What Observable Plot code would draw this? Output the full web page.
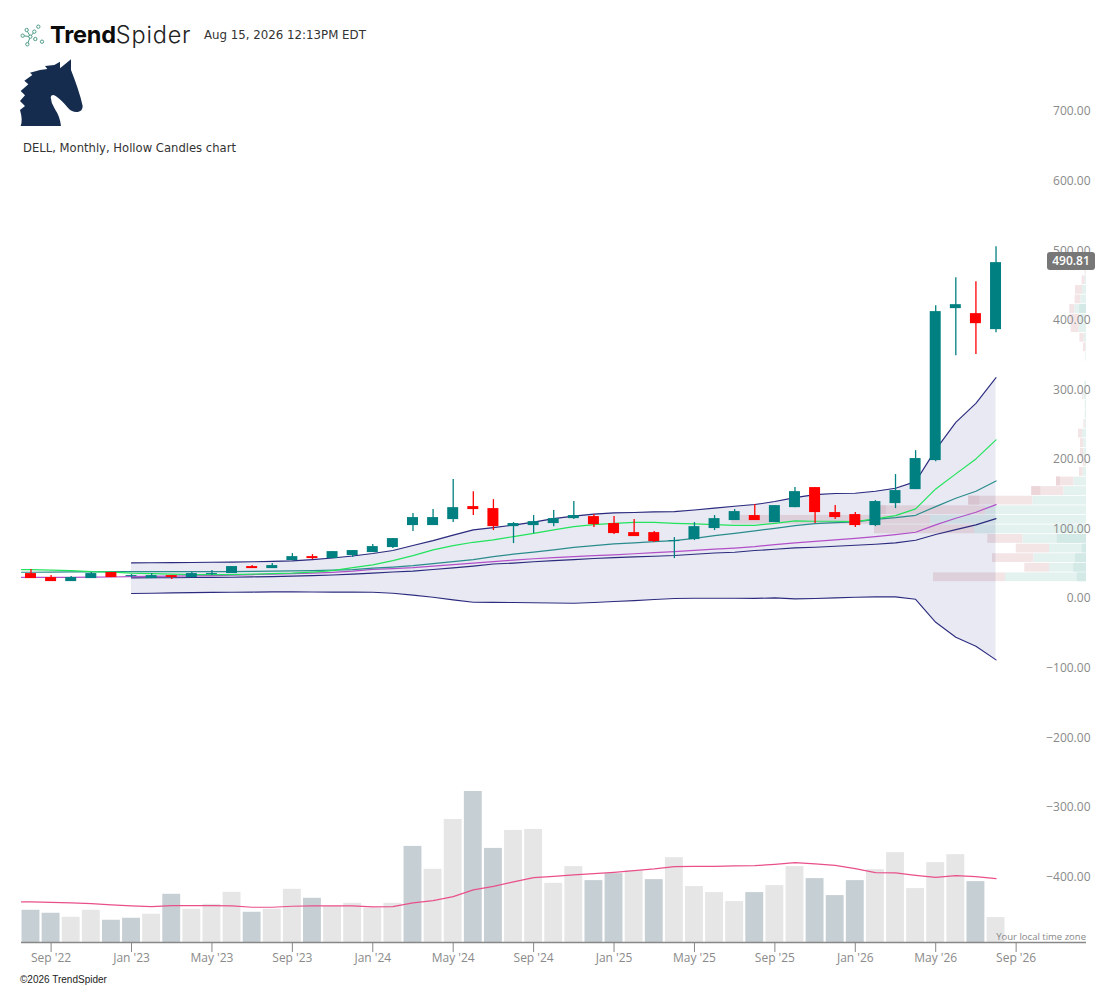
<!DOCTYPE html>
<html><head><meta charset="utf-8">
<script src="https://cdn.jsdelivr.net/npm/d3@7"></script>
<script src="https://cdn.jsdelivr.net/npm/@observablehq/plot@0.6"></script>
<style>
html,body{margin:0;padding:0;background:#fff;}
#page{position:relative;width:1116px;height:989px;overflow:hidden;font-family:"DejaVu Sans",sans-serif;}
#page>div.layer{position:absolute;left:0;top:0;}
.abs{position:absolute;white-space:nowrap;}
</style></head><body>
<div id="page">
<div class="layer" id="vol"></div>
<div class="layer" id="prof"></div>
<div class="layer" id="main"></div>
<svg class="abs" style="left:15px;top:20px" width="75" height="110" viewBox="0 0 225 330">
<g fill="#fff" stroke="#4d9c86" stroke-width="3"><path fill="none" d="M35 30L46 50L37 73M23 47L46 50M46 50L58 35"/><circle cx="23" cy="47" r="5"/><circle cx="35" cy="30" r="5"/><circle cx="37" cy="73" r="5"/><circle cx="46" cy="50" r="5"/><circle cx="58" cy="35" r="5"/><circle cx="70" cy="20" r="5"/><circle cx="61" cy="57" r="5"/><circle cx="81" cy="65" r="5"/></g>
<path fill="#152c4f" d="M168 118L168 150Q178 175 188 205Q198 235 203 258Q203 274 188 276Q172 278 160 265Q140 240 122 228Q110 220 107 232Q108 250 120 268Q135 290 138 318L17 318Q24 300 15 270L30 258L15 243L30 226L17 213L40 193L28 182L52 165L45 158L75 150L97 147L90 138L118 135L135 125L135 145Z"/>
</svg>
<div class="abs" style="left:50px;top:20px;font:700 23.5px/30px Inter,sans-serif;color:#0b0b0b;letter-spacing:-.2px">Trend<span style="font-weight:300;color:#222;letter-spacing:.8px">Spider</span></div>
<div class="abs" style="left:204px;top:28px;font-size:11.8px;line-height:15px;color:#333">Aug 15, 2026 12:13PM EDT</div>
<div class="abs" style="left:23px;top:141px;font-size:11.6px;line-height:15px;color:#333">DELL, Monthly, Hollow Candles chart</div>
<div class="abs" style="left:1047px;top:252px;width:48px;height:18px;border-radius:3px;background:#777;color:#fff;text-align:center;font:600 12px/18px 'Open Sans',sans-serif">490.81</div>
<div class="abs" style="right:30px;top:930px;font:9.5px/13px 'Open Sans',sans-serif;color:#888">Your local time zone</div>
<div class="abs" style="left:20px;top:974px;font:10px/12px 'Liberation Sans',sans-serif;color:#222">©2026 TrendSpider</div>
</div>
<script>
const open = [35.9,30.2,24.4,28.7,37.4,31.6,28.7,33.0,30.2,34.5,35.9,46.0,43.1,54.6,60.3,57.5,61.8,66.1,73.3,104.9,104.9,113.5,132.2,129.3,103.4,104.9,107.8,114.9,117.8,107.8,94.8,94.8,81.9,84.8,100.6,112.1,119.3,109.2,130.7,159.5,123.6,120.7,104.9,136.5,156.6,198.3,416.7,409.5,386.5];
const high = [41.7,33.0,31.6,37.4,37.4,34.5,35.9,33.0,37.4,40.2,46.0,47.4,50.3,64.7,63.2,67.5,69.0,77.6,86.2,122.1,127.9,171.0,153.7,142.2,109.2,119.3,126.4,139.4,120.7,117.8,113.5,96.3,87.6,109.2,119.3,127.9,135.1,133.6,159.5,159.5,133.6,123.6,140.8,178.2,212.6,421.0,461.2,455.5,505.8];
const low = [28.7,24.4,24.4,28.7,30.2,30.2,28.7,27.3,30.2,33.0,35.9,43.1,43.1,54.6,56.0,57.5,58.9,66.1,71.8,96.3,104.9,109.2,119.3,97.7,79.0,93.4,103.4,113.5,102.0,92.0,89.1,80.5,57.5,83.3,97.7,112.1,112.1,109.2,130.7,107.8,113.5,102.0,103.4,129.3,156.6,196.8,349.1,350.6,382.2];
const close = [28.7,24.4,30.2,35.9,30.2,33.0,33.0,30.2,35.9,35.9,46.0,43.1,47.4,60.3,57.5,67.5,69.0,74.7,86.2,116.4,116.4,130.7,127.9,103.4,107.8,110.6,114.9,119.3,106.3,93.4,89.1,81.9,83.3,103.4,114.9,125.0,112.1,133.6,153.7,123.6,116.4,104.9,139.4,155.2,201.2,412.4,422.4,395.1,482.8];

const emaFast = [41.7,40.9,40.2,38.8,38.1,36.6,35.9,35.2,34.5,34.5,34.5,35.2,35.9,36.6,38.1,40.2,44.5,48.4,54.6,61.8,70.0,76.2,80.9,84.3,89.1,93.8,98.7,103.4,106.3,108.2,109.6,109.6,108.2,107.3,106.3,105.3,105.3,108.2,111.6,111.1,111.1,110.6,114.5,119.3,128.9,157.6,179.2,200.7,228.0];
const emaMid = [37.8,38.1,38.4,38.5,38.8,38.8,38.8,38.8,38.8,38.8,38.8,39.1,39.4,39.8,40.2,40.9,41.7,43.8,45.3,47.4,50.3,53.2,56.0,60.3,63.9,66.8,70.0,73.7,76.2,78.6,80.0,81.9,83.3,86.6,90.5,93.8,97.3,101.0,104.9,107.8,109.2,110.2,113.9,116.4,119.7,132.2,144.1,154.2,169.1];
const emaSlow = [30.6,30.6,30.6,30.7,31.0,31.6,31.9,32.2,32.5,33.0,33.8,34.5,35.2,35.9,36.6,37.6,39.5,42.1,43.1,44.5,46.7,48.9,51.0,53.2,55.3,57.2,58.9,60.3,61.8,62.8,64.4,66.1,67.5,69.3,71.0,72.6,74.7,77.6,80.0,82.3,84.3,86.6,89.1,92.0,95.3,105.9,115.4,124.0,135.1];
// Bollinger series begin at Jan '23 (index 5)
const bbMiddle = [29.7,29.9,30.0,30.2,30.5,30.7,31.2,31.6,32.3,33.0,33.8,35.2,36.6,38.1,39.5,41.7,44.1,46.7,49.6,51.0,52.9,54.6,56.0,57.5,58.9,59.9,60.8,61.8,63.7,65.4,66.5,69.0,70.8,72.8,73.7,75.1,76.6,78.0,80.0,83.8,92.0,99.1,105.9,114.9];
const bbUpper = [51.3,51.4,51.7,51.9,52.2,52.4,52.9,53.4,54.2,56.0,58.2,61.1,64.7,69.0,76.2,83.3,91.2,98.7,102.0,105.6,109.9,114.9,118.5,121.4,123.1,123.6,124.6,125.0,127.2,130.0,132.6,135.1,139.4,145.1,149.4,150.9,151.3,154.2,158.5,168.1,214.1,253.3,280.6,317.5];
const bbLower = [7.2,7.6,8.2,8.6,8.9,9.1,9.3,9.6,9.6,9.5,9.3,9.3,9.1,7.6,5.0,1.9,-1.9,-5.3,-5.5,-5.7,-6.0,-6.3,-6.8,-5.7,-4.3,-2.9,-1.4,0,0.4,0.4,0.4,0.3,1.0,-0.4,0,1.0,1.9,2.4,2.4,-1.0,-34.1,-55.6,-68.5,-88.1];
const bbStart = 5;

const volume = [32.3,29.3,25.3,32.3,22.3,24.3,28.3,48.3,33.3,38.3,50.3,30.3,33.3,53.3,44.3,36.3,39.3,34.3,39.3,96.3,73.3,123.3,151.3,94.3,112.3,113.3,59.3,76,62,69,72,63,85,56,50,41,50,57,76,64,47,62,73,90,54,80,88,61,25];
const volumeDown = [1,1,0,0,1,1,0,1,0,0,0,1,0,0,1,0,0,0,0,1,0,0,1,1,0,0,0,0,1,1,0,1,0,0,0,0,1,0,0,1,1,1,0,0,0,0,0,1,0];
const volumeAvg = [40.7,40.3,39.7,39,37.7,36.7,36,37,37,37,36.7,35.3,35.3,36.3,36.7,36.7,36.7,35.7,36,39.7,42,46,52.7,56.3,60.7,65,66.3,67.7,69,70.3,72,73.7,76,76.2,76.3,76.7,77,78.3,80,78.7,77.3,74,70,69.7,67.3,65.3,67,66,64];

// Volume-by-price profile, bottom bin first
const binStart = 23.7, binSize = 13.77;
const profileUp =   [81,37,52.7,37,63.7,112,156,101,53.7,22.7,12.7,3.3,1.5,2.7,2.7,4,1.3,1.3,1.3,2.7,1.7,0,0,0.7,0.7,2.3,7.3,6.7,11.7,5.7,4,1.3,0.7,0.7,0.5];
const profileDown = [72,24.7,41.3,33.3,35,100,199,105,64,32,17.3,3.7,1.7,3.3,3.3,4,1.3,0,0,1,0,0,0,0,2.3,4.3,8,10,5,5.7,7,3,0.7,0.7,0];
const profileCore = [9.3,12.7,11,4.3,29.3,0,0,0,0,0,0,0,0,0,0,0,0,0,0,0,0,0,0,0,0,0,0,0,6.7,0,0,0,0,0,0];
const profileEdge = [0,0,0,0,0,0,0,6,11,9,4,0,0,0,0,0,0,0,0,0,0,0,0,0,0,0,0,0,0,0,0,0,0,0,0];

const priceTicks = [700,600,500,400,300,200,100,0,-100,-200,-300,-400];
const monthTicks = [1,5,9,13,17,21,25,29,33,37,41,45,49];
const monthLabels = ["Sep '22","Jan '23","May '23","Sep '23","Jan '24","May '24","Sep '24","Jan '25","May '25","Sep '25","Jan '26","May '26","Sep '26"];

const TEAL="#008080", RED="#ff0000", GREY="#8a8a8a", UIFONT="'Open Sans',sans-serif";
const xDomain=[-0.4725,52.5], W=1116, H=989;
const common={width:W,height:H,marginLeft:21,marginRight:30,marginTop:0,marginBottom:47,style:{background:"transparent",fontFamily:UIFONT},
  x:{domain:xDomain,axis:null}};
const priceY={domain:[-400,700],range:[876.4,111],axis:null};
const idx=open.map((_,i)=>i);
const lead=xDomain[0];
const withLead=v=>[{i:lead,v:v[0]},...v.map((d,i)=>({i,v:d}))];

// Volume pane
document.getElementById("vol").append(Plot.plot({...common,
  style:{background:"#fff",fontFamily:UIFONT},
  y:{domain:[0,151.3],range:[942,791],axis:null},
  marks:[
    Plot.rect(idx,{x1:i=>i-0.445,x2:i=>i+0.445,y1:0,y2:i=>volume[i],fill:i=>volumeDown[i]?"#c6cfd4":"#e6e6e6"}),
    Plot.line(withLead(volumeAvg),{x:"i",y:"v",stroke:"#e9508a",strokeWidth:1.2}),
    Plot.ruleY([0],{x1:lead,x2:xDomain[1],stroke:"#888",strokeWidth:1.3}),
    Plot.axisX({ticks:monthTicks,tickFormat:d=>monthLabels[monthTicks.indexOf(d)],tickSize:10,tickPadding:1,stroke:"#888",strokeWidth:1,strokeOpacity:1,fill:GREY,fontSize:12,label:null})
  ]}));

// Volume-by-price profile
const bins=profileUp.map((_,k)=>k);
document.getElementById("prof").append(Plot.plot({...common,
  x:{domain:[0,1065],range:[1086,21],axis:null},y:priceY,
  marks:[
    Plot.rect(bins,{x1:0,x2:k=>profileUp[k],y1:k=>binStart+k*binSize,y2:k=>binStart+(k+1)*binSize,fill:"#e3f2ef",insetTop:.4,insetBottom:.4}),
    Plot.rect(bins,{x1:k=>profileUp[k],x2:k=>profileUp[k]+profileDown[k],y1:k=>binStart+k*binSize,y2:k=>binStart+(k+1)*binSize,fill:"#f3e4e6",insetTop:.4,insetBottom:.4}),
    Plot.rect(bins,{x1:0,x2:k=>profileCore[k],y1:k=>binStart+k*binSize,y2:k=>binStart+(k+1)*binSize,fill:"#d3e9e5",insetTop:.4,insetBottom:.4}),
    Plot.rect(bins,{x1:k=>profileUp[k]+profileDown[k]-profileEdge[k],x2:k=>profileUp[k]+profileDown[k],y1:k=>binStart+k*binSize,y2:k=>binStart+(k+1)*binSize,fill:"#ecd6da",insetTop:.4,insetBottom:.4})
  ]}));

// Price pane
const bb=bbUpper.map((u,j)=>({i:j+bbStart,u,m:bbMiddle[j],l:bbLower[j]}));
const bodyHalf=0.273;
document.getElementById("main").append(Plot.plot({...common,y:priceY,
  marks:[
    Plot.areaY(bb,{x:"i",y1:"l",y2:"u",fill:"#1a237e",fillOpacity:.1}),
    Plot.line(bb,{x:"i",y:"u",stroke:"#2b2a7e",strokeWidth:1.1}),
    Plot.line(bb,{x:"i",y:"l",stroke:"#2b2a7e",strokeWidth:1.1}),
    Plot.line(bb,{x:"i",y:"m",stroke:"#2b2a7e",strokeWidth:1.1}),
    Plot.line(withLead(emaSlow),{x:"i",y:"v",stroke:"#b24fc9",strokeWidth:1.2}),
    Plot.line(withLead(emaMid),{x:"i",y:"v",stroke:"#2a8c8c",strokeWidth:1.2}),
    Plot.line(withLead(emaFast),{x:"i",y:"v",stroke:"#22e35c",strokeWidth:1.2}),
    Plot.ruleX(idx,{x:i=>i,y1:i=>low[i],y2:i=>high[i],stroke:i=>close[i]>=open[i]?TEAL:RED,strokeWidth:1.3}),
    Plot.rect(idx,{x1:i=>i-bodyHalf,x2:i=>i+bodyHalf,y1:i=>open[i],y2:i=>close[i],fill:i=>close[i]>=open[i]?TEAL:RED}),
    Plot.text(priceTicks,{y:d=>d,text:d=>(d<0?"\u2212":"")+Math.abs(d).toFixed(2),frameAnchor:"right",textAnchor:"end",fill:GREY,fontSize:12,dx:4})
  ]}));
</script>
</body></html>
